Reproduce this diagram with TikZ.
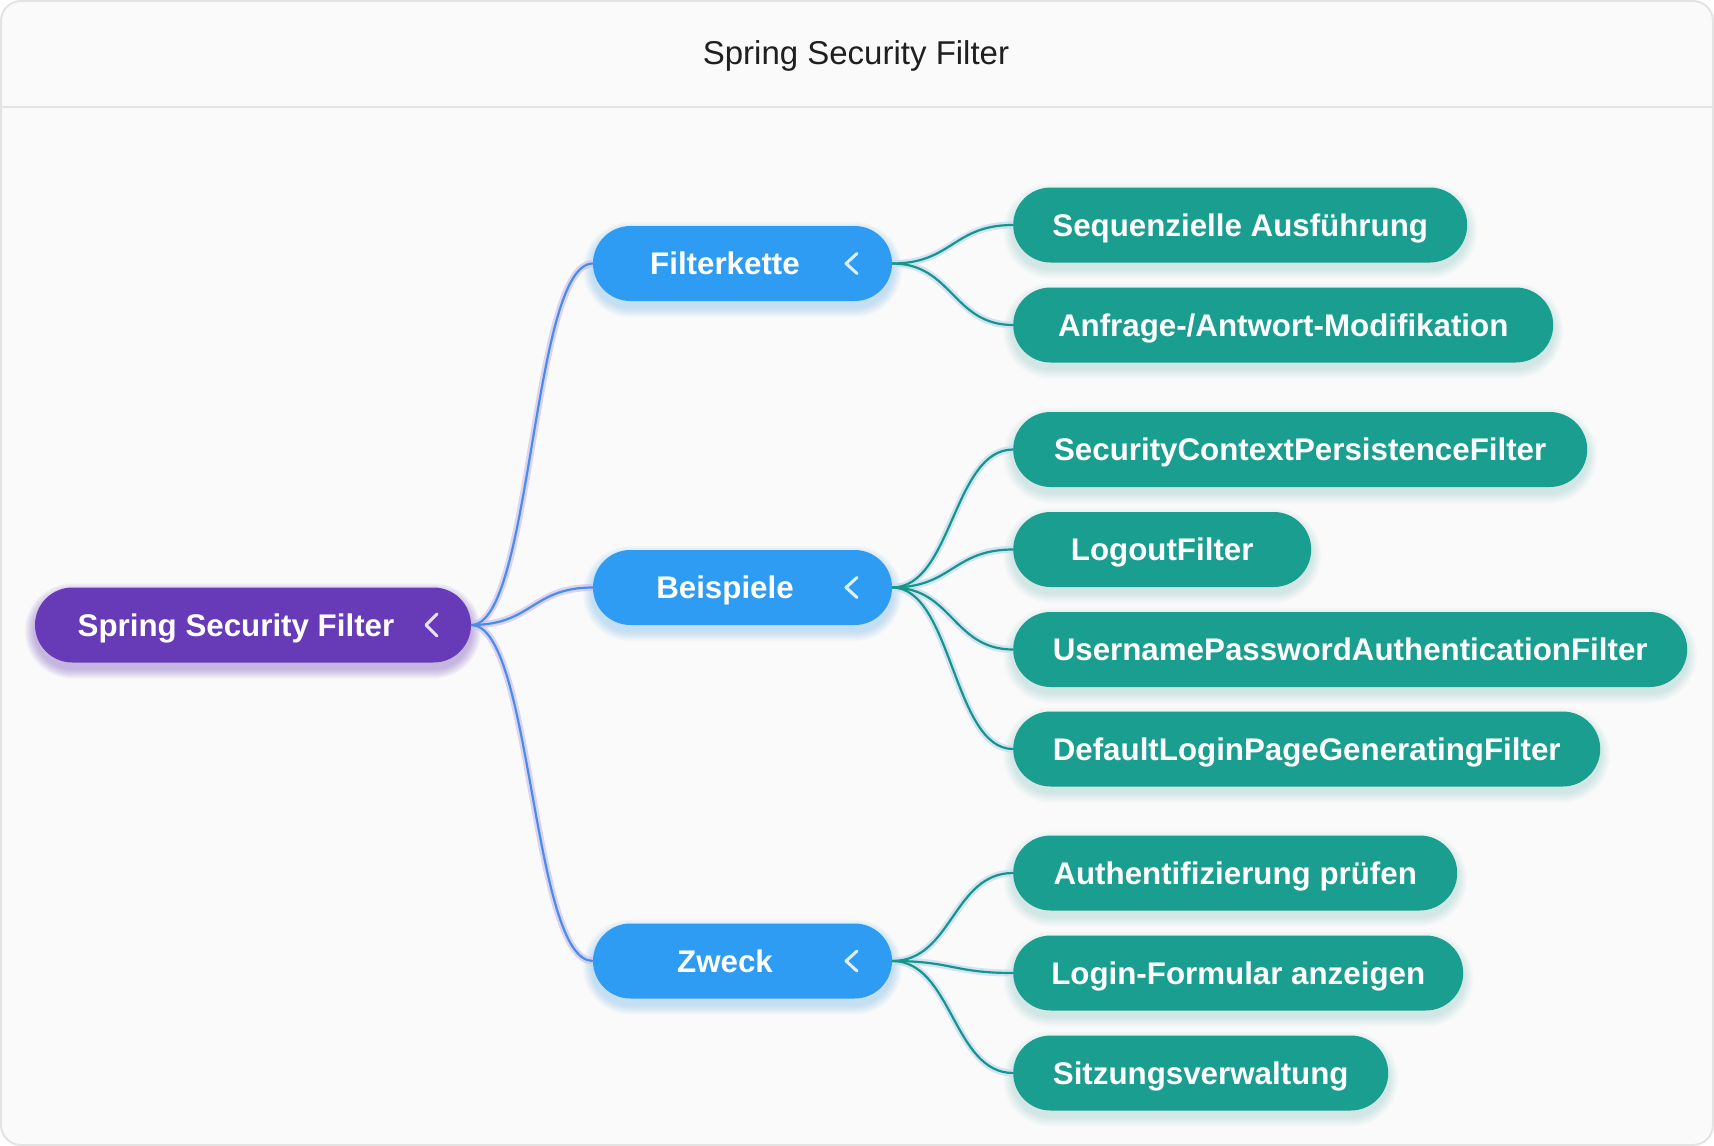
\documentclass[tikz,border=0pt]{standalone}
\usepackage{fontspec}
\setmainfont{Liberation Sans}
\pgfdeclarelayer{framelayer}
\pgfdeclarelayer{shadowlayer}
\pgfdeclarelayer{linelayer}
\pgfsetlayers{framelayer,shadowlayer,linelayer,main}
\definecolor{bgc}{HTML}{FAFAFA}
\definecolor{framec}{HTML}{E3E3E3}
\definecolor{rootc}{RGB}{103,58,183}
\definecolor{childc}{RGB}{46,156,242}
\definecolor{leafc}{RGB}{26,158,143}
\definecolor{blueline}{RGB}{74,140,236}
\definecolor{bluehalo}{RGB}{205,195,240}
\definecolor{tealline}{RGB}{22,150,136}
\definecolor{tealhalo}{RGB}{200,222,246}
\definecolor{titlec}{HTML}{1F1F1F}
\tikzset{
  pill/.style={rectangle, rounded corners=37.5pt, minimum height=75pt, inner sep=0pt, text=white, text height=22pt, text depth=0pt, font=\bfseries\fontsize{31.3}{36}\selectfont},
  rootbox/.style={pill, fill=rootc},
  childbox/.style={pill, fill=childc},
  leafbox/.style={pill, fill=leafc, anchor=west},
  lbl/.style={text=white, font=\bfseries\fontsize{31.3}{36}\selectfont, inner sep=0pt, text height=22pt, text depth=0pt},
  chev/.style={draw=white, draw opacity=0.85, line width=3pt, line cap=round, line join=round},
  bhalo/.style={draw=bluehalo, line width=7pt, draw opacity=0.7},
  bline/.style={draw=blueline, line width=2.2pt},
  thalo/.style={draw=tealhalo, line width=7pt, draw opacity=0.8},
  tline/.style={draw=tealline, line width=2.2pt},
}
\begin{document}
\begin{tikzpicture}[x=1pt,y=-1pt]
\useasboundingbox (0,0) rectangle (1714,1146);
\begin{pgfonlayer}{framelayer}
\draw[fill=bgc, draw=framec, line width=2pt, rounded corners=20pt] (1,1) rectangle (1713,1145);
\draw[draw=framec, line width=2pt] (2,107) -- (1712,107);
\end{pgfonlayer}
\node[text=titlec, font=\fontsize{33}{38}\selectfont, text height=24pt, text depth=0pt, inner sep=0pt] (title) at (856,52) {Spring Security Filter};

% nodes
\node[rootbox, minimum width=436pt] (root) at (253,625) {};
\node[lbl] (rootl) at (236,625) {Spring Security Filter};

\node[childbox, minimum width=299pt] (c1) at (742.5,263.5) {};
\node[lbl] (c1l) at (725,263.5) {Filterkette};
\node[childbox, minimum width=299pt] (c2) at (742.5,587.5) {};
\node[lbl] (c2l) at (725,587.5) {Beispiele};
\node[childbox, minimum width=299pt] (c3) at (742.5,961) {};
\node[lbl] (c3l) at (725,961) {Zweck};

\node[leafbox, minimum width=454pt] (l1) at (1013,225) {Sequenzielle Ausführung};
\node[leafbox, minimum width=540pt] (l2) at (1013,325) {Anfrage-/Antwort-Modifikation};
\node[leafbox, minimum width=574pt] (l3) at (1013,449.5) {SecurityContextPersistenceFilter};
\node[leafbox, minimum width=298pt] (l4) at (1013,549.5) {LogoutFilter};
\node[leafbox, minimum width=674pt] (l5) at (1013,649.5) {UsernamePasswordAuthenticationFilter};
\node[leafbox, minimum width=587pt] (l6) at (1013,749) {DefaultLoginPageGeneratingFilter};
\node[leafbox, minimum width=444pt] (l7) at (1013,873) {Authentifizierung prüfen};
\node[leafbox, minimum width=450pt] (l8) at (1013,973) {Login-Formular anzeigen};
\node[leafbox, minimum width=375pt] (l9) at (1013,1073) {Sitzungsverwaltung};

% chevrons
\draw[chev] ([xshift=184pt,yshift=11pt]root.center) -- ([xshift=173pt,yshift=0pt]root.center) -- ([xshift=184pt,yshift=-11pt]root.center);
\foreach \n in {c1,c2,c3}{
  \draw[chev] ([xshift=114.5pt,yshift=10pt]\n.center) -- ([xshift=103.5pt]\n.center) -- ([xshift=114.5pt,yshift=-10pt]\n.center);
}

% soft shadows
\begin{pgfonlayer}{shadowlayer}
\foreach \n/\col/\op in {root/rootc/0.04, c1/childc/0.026, c2/childc/0.026, c3/childc/0.026, l1/leafc/0.016, l2/leafc/0.016, l3/leafc/0.016, l4/leafc/0.016, l5/leafc/0.016, l6/leafc/0.016, l7/leafc/0.016, l8/leafc/0.016, l9/leafc/0.016}{
  \foreach \k in {1,...,10}{
    \pgfmathsetmacro{\rr}{37.5+\k}
    \fill[\col, opacity=\op, rounded corners=\rr pt] ([shift={(-\k,-\k+6)}]\n.north west) rectangle ([shift={(\k,\k+6)}]\n.south east);
  }
}
\end{pgfonlayer}

% connectors
\begin{pgfonlayer}{linelayer}
\foreach \c in {c1,c2,c3}{
  \draw[bhalo] (root.east) .. controls +(61,0) and +(-61,0) .. (\c.west);
}
\foreach \c in {c1,c2,c3}{
  \draw[bline] (root.east) .. controls +(61,0) and +(-61,0) .. (\c.west);
}
\foreach \p/\l in {c1/l1,c1/l2,c2/l3,c2/l4,c2/l5,c2/l6,c3/l7,c3/l8,c3/l9}{
  \draw[thalo] (\p.east) .. controls +(60,0) and +(-60,0) .. (\l.west);
}
\foreach \p/\l in {c1/l1,c1/l2,c2/l3,c2/l4,c2/l5,c2/l6,c3/l7,c3/l8,c3/l9}{
  \draw[tline] (\p.east) .. controls +(60,0) and +(-60,0) .. (\l.west);
}
\end{pgfonlayer}
\end{tikzpicture}
\end{document}
